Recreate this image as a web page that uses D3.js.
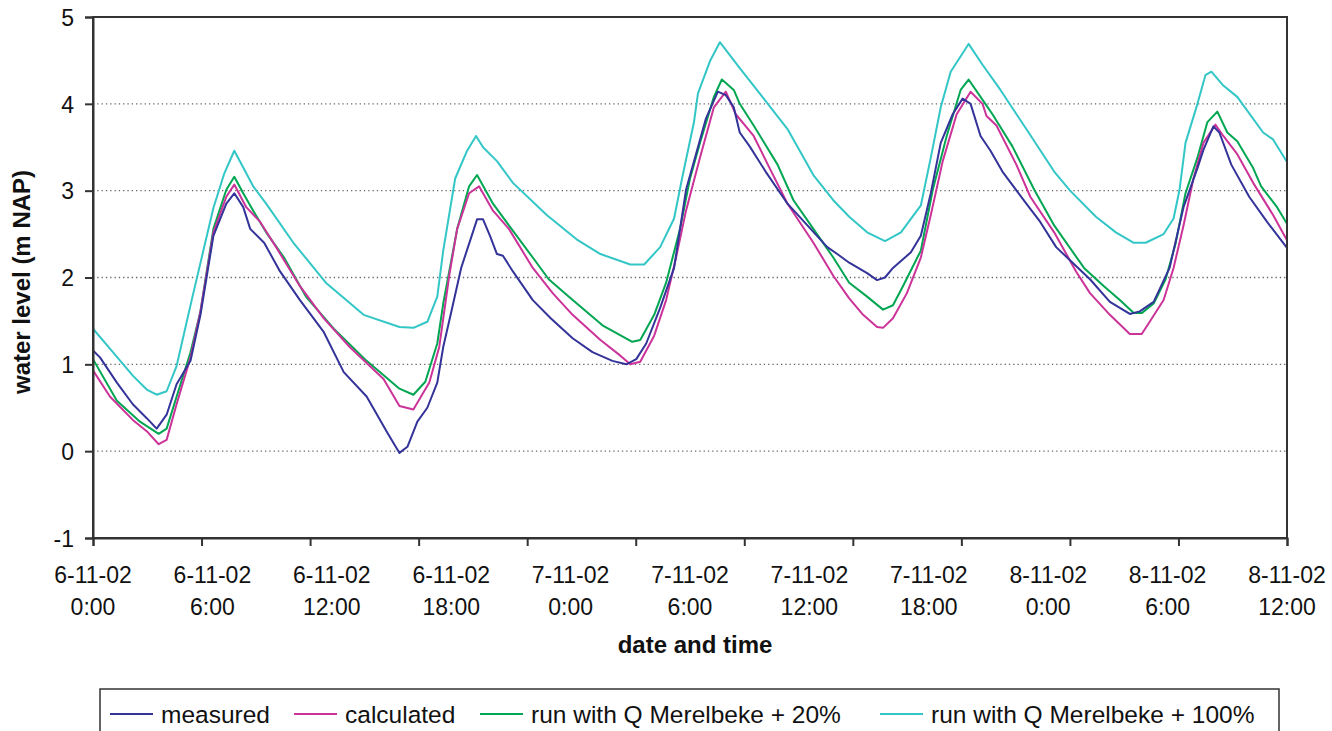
<!DOCTYPE html>
<html>
<head>
<meta charset="utf-8">
<script src="https://cdn.jsdelivr.net/npm/d3@7"></script>
<style>
body { margin: 0; background: #fff; }
text { font-family: "Liberation Sans", Arial, sans-serif; fill: #111; }
</style>
</head>
<body>
<div id="chart"></div>
<script>
// hours since 6-11-02 0:00, water level in m NAP
var measuredT = [0,0.35,1.2,2.0,2.7,3.2,3.7,4.2,4.9,5.4,6.05,6.7,7.1,7.55,7.9,8.6,9.4,10.4,11.6,12.6,13.75,14.8,15.4,15.8,16.3,16.8,17.3,17.6,18.0,18.5,19.3,19.6,19.95,20.3,20.6,21.1,22.1,23.0,24.1,25.1,26.1,26.8,27.3,27.8,28.5,29.2,29.8,30.3,30.8,31.4,31.8,32.2,32.5,33.0,33.8,34.9,35.9,36.9,37.4,38.0,38.9,39.4,39.8,40.2,41.1,41.6,42.1,42.6,43.2,43.7,44.1,44.6,45.1,45.7,46.9,47.6,48.4,50.1,51.1,52.1,52.6,53.3,54.1,54.8,55.5,55.8,56.3,56.6,57.2,58.1,59.0,60.0]
var measuredV = [1.16,1.08,0.79,0.54,0.38,0.26,0.42,0.77,1.04,1.57,2.48,2.85,2.97,2.81,2.56,2.40,2.07,1.74,1.37,0.91,0.63,0.21,-0.02,0.05,0.34,0.50,0.79,1.2,1.6,2.11,2.67,2.67,2.48,2.27,2.25,2.07,1.74,1.53,1.30,1.14,1.04,1.0,1.06,1.24,1.65,2.11,3.01,3.42,3.83,4.14,4.10,3.96,3.67,3.51,3.22,2.85,2.60,2.35,2.27,2.17,2.05,1.97,2.0,2.11,2.29,2.48,2.97,3.55,3.88,4.06,4.0,3.63,3.46,3.22,2.85,2.64,2.35,1.98,1.72,1.58,1.61,1.72,2.11,2.81,3.26,3.47,3.74,3.67,3.30,2.93,2.64,2.34]

var calculatedT = [0,0.85,2.0,2.7,3.3,3.7,4.2,4.9,5.4,6.05,6.7,7.1,7.7,8.4,9.2,10.4,11.6,12.9,14.6,15.4,16.1,16.9,17.4,17.9,18.3,18.9,19.4,20.1,20.9,22.1,23.1,24.1,25.5,26.5,27.0,27.5,28.2,28.8,29.3,29.8,30.5,31.2,31.8,32.3,33.2,34.0,34.9,36.2,37.2,38.0,38.7,39.4,39.7,40.2,40.9,41.6,42.1,42.7,43.4,44.1,44.7,44.9,45.4,46.4,47.1,48.3,49.4,50.1,51.1,52.1,52.7,53.1,53.8,54.3,54.8,55.3,55.8,56.4,56.8,57.5,58.3,59.3,60.0]
var calculatedV = [0.93,0.63,0.36,0.23,0.08,0.13,0.54,1.08,1.61,2.52,2.93,3.07,2.81,2.64,2.35,1.90,1.53,1.20,0.83,0.52,0.48,0.79,1.20,2.02,2.56,2.97,3.05,2.77,2.56,2.11,1.82,1.57,1.28,1.10,1.0,1.03,1.33,1.74,2.23,2.77,3.38,3.96,4.14,3.88,3.63,3.26,2.85,2.40,2.02,1.76,1.57,1.43,1.42,1.53,1.82,2.23,2.72,3.34,3.88,4.14,4.0,3.86,3.75,3.30,2.93,2.52,2.07,1.82,1.57,1.35,1.35,1.49,1.74,2.11,2.60,3.14,3.55,3.76,3.63,3.42,3.09,2.72,2.43]

var plus20T = [0,1.2,2.36,3.3,3.7,4.9,5.4,6.05,6.7,7.1,7.55,8.05,8.7,9.6,10.7,12.1,13.75,15.4,16.1,16.7,17.3,17.6,18.3,18.9,19.3,20.1,20.9,22.1,22.9,23.9,25.6,27.1,27.5,28.2,28.8,29.5,30.0,30.5,31.2,31.6,32.2,32.5,33.2,34.4,35.2,36.2,37.2,38.0,38.9,39.7,40.2,40.7,41.6,42.2,42.9,43.6,44.0,44.6,45.2,46.2,47.3,48.3,49.8,50.8,51.6,52.3,52.7,53.3,53.9,54.4,54.9,55.5,56.0,56.5,57.0,57.5,58.3,58.7,59.5,60.0]
var plus20V = [1.06,0.58,0.34,0.20,0.26,1.14,1.61,2.56,3.01,3.16,2.97,2.77,2.52,2.23,1.78,1.41,1.04,0.72,0.65,0.80,1.24,1.70,2.56,3.05,3.18,2.85,2.60,2.23,1.98,1.78,1.45,1.26,1.28,1.57,1.94,2.56,3.14,3.55,4.08,4.28,4.16,4.0,3.75,3.30,2.89,2.56,2.23,1.94,1.78,1.63,1.68,1.90,2.31,3.01,3.63,4.16,4.28,4.08,3.88,3.51,3.01,2.60,2.11,1.90,1.74,1.59,1.59,1.70,1.98,2.39,2.97,3.38,3.79,3.91,3.67,3.57,3.26,3.05,2.81,2.62]

var plus100T = [0,0.85,2.0,2.7,3.2,3.7,4.2,5.0,6.05,6.6,7.1,8.05,8.7,10.07,11.7,13.6,15.4,16.1,16.8,17.3,17.6,18.2,18.8,19.25,19.6,20.3,21.1,22.8,24.3,25.5,27.0,27.7,28.5,29.2,29.6,30.2,30.4,31.0,31.5,32.5,33.5,34.9,36.2,37.2,38.0,38.9,39.8,40.6,41.6,42.1,42.6,43.1,44.0,44.7,45.6,46.9,48.3,49.1,50.4,51.4,52.3,52.9,53.8,54.3,54.6,54.9,55.5,55.9,56.2,56.8,57.5,58.8,59.3,60.0]
var plus100V = [1.41,1.18,0.87,0.71,0.65,0.69,0.98,1.78,2.8,3.2,3.46,3.05,2.85,2.4,1.94,1.57,1.43,1.42,1.49,1.78,2.31,3.14,3.46,3.63,3.5,3.34,3.09,2.72,2.44,2.27,2.15,2.15,2.35,2.68,3.14,3.79,4.12,4.49,4.71,4.41,4.12,3.71,3.18,2.89,2.70,2.52,2.42,2.52,2.83,3.38,3.96,4.37,4.69,4.45,4.16,3.71,3.22,3.0,2.70,2.52,2.40,2.40,2.50,2.68,3.01,3.55,4.0,4.33,4.37,4.21,4.08,3.67,3.59,3.33]

var seriesNames = ["measured", "calculated", "run with Q Merelbeke + 20%", "run with Q Merelbeke + 100%"]
var seriesColors = ["#333399", "#cc3399", "#00a651", "#33c6c6"]
var xTickDays = ["6-11-02","6-11-02","6-11-02","6-11-02","7-11-02","7-11-02","7-11-02","7-11-02","8-11-02","8-11-02","8-11-02"]
var xTickTimes = ["0:00","6:00","12:00","18:00","0:00","6:00","12:00","18:00","0:00","6:00","12:00"]
var yTicks = [-1,0,1,2,3,4,5]

var series = [
  d3.zip(measuredT, measuredV),
  d3.zip(calculatedT, calculatedV),
  d3.zip(plus20T, plus20V),
  d3.zip(plus100T, plus100V)
]

var plotL = 93, plotR = 1287, plotT = 17, plotB = 538

var svg = d3.select('#chart')
  .append('svg')
  .attr('width', 1332)
  .attr('height', 731)

var x = d3.scaleLinear().domain([0, 60]).range([plotL, plotR])
var y = d3.scaleLinear().domain([-1, 5]).range([plotB, plotT])

// dotted gridlines
svg.selectAll('.grid')
  .data(yTicks.filter(function(d) { return d > -1 && d < 5 }))
  .enter().append('line')
  .attr('x1', plotL).attr('x2', plotR)
  .attr('y1', function(d) { return y(d) })
  .attr('y2', function(d) { return y(d) })
  .attr('stroke', '#666')
  .attr('stroke-width', 1.3)
  .attr('stroke-dasharray', '1.3,3')

var line = d3.line()
  .x(function(d) { return x(d[0]) })
  .y(function(d) { return y(d[1]) })

// draw back to front: +100 and +20 under the measured line
var order = [3, 2, 1, 0]
order.forEach(function(i) {
  svg.append('path')
    .datum(series[i])
    .attr('d', line)
    .attr('fill', 'none')
    .attr('stroke', seriesColors[i])
    .attr('stroke-width', 2)
    .attr('stroke-linejoin', 'round')
})

// frame
svg.append('rect')
  .attr('x', plotL).attr('y', plotT)
  .attr('width', plotR - plotL).attr('height', plotB - plotT)
  .attr('fill', 'none')
  .attr('stroke', '#333')
  .attr('stroke-width', 2)

// y axis (plain hyphen for the minus, like the original)
var yAxis = d3.axisLeft(y).tickValues(yTicks).tickSize(8)
  .tickFormat(function(d) { return String(d) })
var gy = svg.append('g').attr('transform', 'translate(' + plotL + ',0)').call(yAxis)
gy.select('.domain').attr('stroke', '#333').attr('stroke-width', 2)
gy.selectAll('.tick line').attr('stroke', '#333').attr('stroke-width', 2)
gy.selectAll('.tick text')
  .attr('x', -19)
  .attr('dy', '0.36em')
  .style('font-size', '23px')
  .style('font-family', '"Liberation Sans", Arial, sans-serif')
  .attr('fill', '#111')

// x axis: tick marks are spaced in 11 steps, labels every 6 hours
var xTickPos = d3.range(12).map(function(i) { return i * 60 / 11 })
var xAxis = d3.axisBottom(x).tickValues(xTickPos).tickSize(8).tickFormat('')
var gx = svg.append('g').attr('transform', 'translate(0,' + plotB + ')').call(xAxis)
gx.select('.domain').attr('stroke', '#333').attr('stroke-width', 2)
gx.selectAll('.tick line').attr('stroke', '#333').attr('stroke-width', 2)

var labels = svg.selectAll('.xlab')
  .data(xTickTimes)
  .enter().append('text')
  .attr('text-anchor', 'middle')
  .style('font-size', '23px')
labels.append('tspan')
  .attr('x', function(d, i) { return x(i * 6) })
  .attr('y', 583)
  .text(function(d, i) { return xTickDays[i] })
labels.append('tspan')
  .attr('x', function(d, i) { return x(i * 6) })
  .attr('y', 615)
  .text(function(d) { return d })

// axis titles
svg.append('text')
  .attr('x', 695).attr('y', 653)
  .attr('text-anchor', 'middle')
  .style('font-size', '24px')
  .style('font-weight', 'bold')
  .text('date and time')

svg.append('text')
  .attr('transform', 'translate(30,282) rotate(-90)')
  .attr('text-anchor', 'middle')
  .style('font-size', '24px')
  .style('font-weight', 'bold')
  .text('water level (m NAP)')

// legend
svg.append('rect')
  .attr('x', 100).attr('y', 689)
  .attr('width', 1179).attr('height', 60)
  .attr('fill', 'none')
  .attr('stroke', '#333')
  .attr('stroke-width', 1.5)

var legX = [110, 294, 480, 880]
var leg = svg.selectAll('.leg')
  .data(seriesNames)
  .enter().append('g')
  .attr('transform', function(d, i) { return 'translate(' + legX[i] + ',0)' })
leg.append('line')
  .attr('x1', 0).attr('x2', 43)
  .attr('y1', 714).attr('y2', 714)
  .attr('stroke', function(d, i) { return seriesColors[i] })
  .attr('stroke-width', 2)
leg.append('text')
  .attr('x', 51).attr('y', 723)
  .style('font-size', '24.5px')
  .text(function(d) { return d })
</script>
</body>
</html>
